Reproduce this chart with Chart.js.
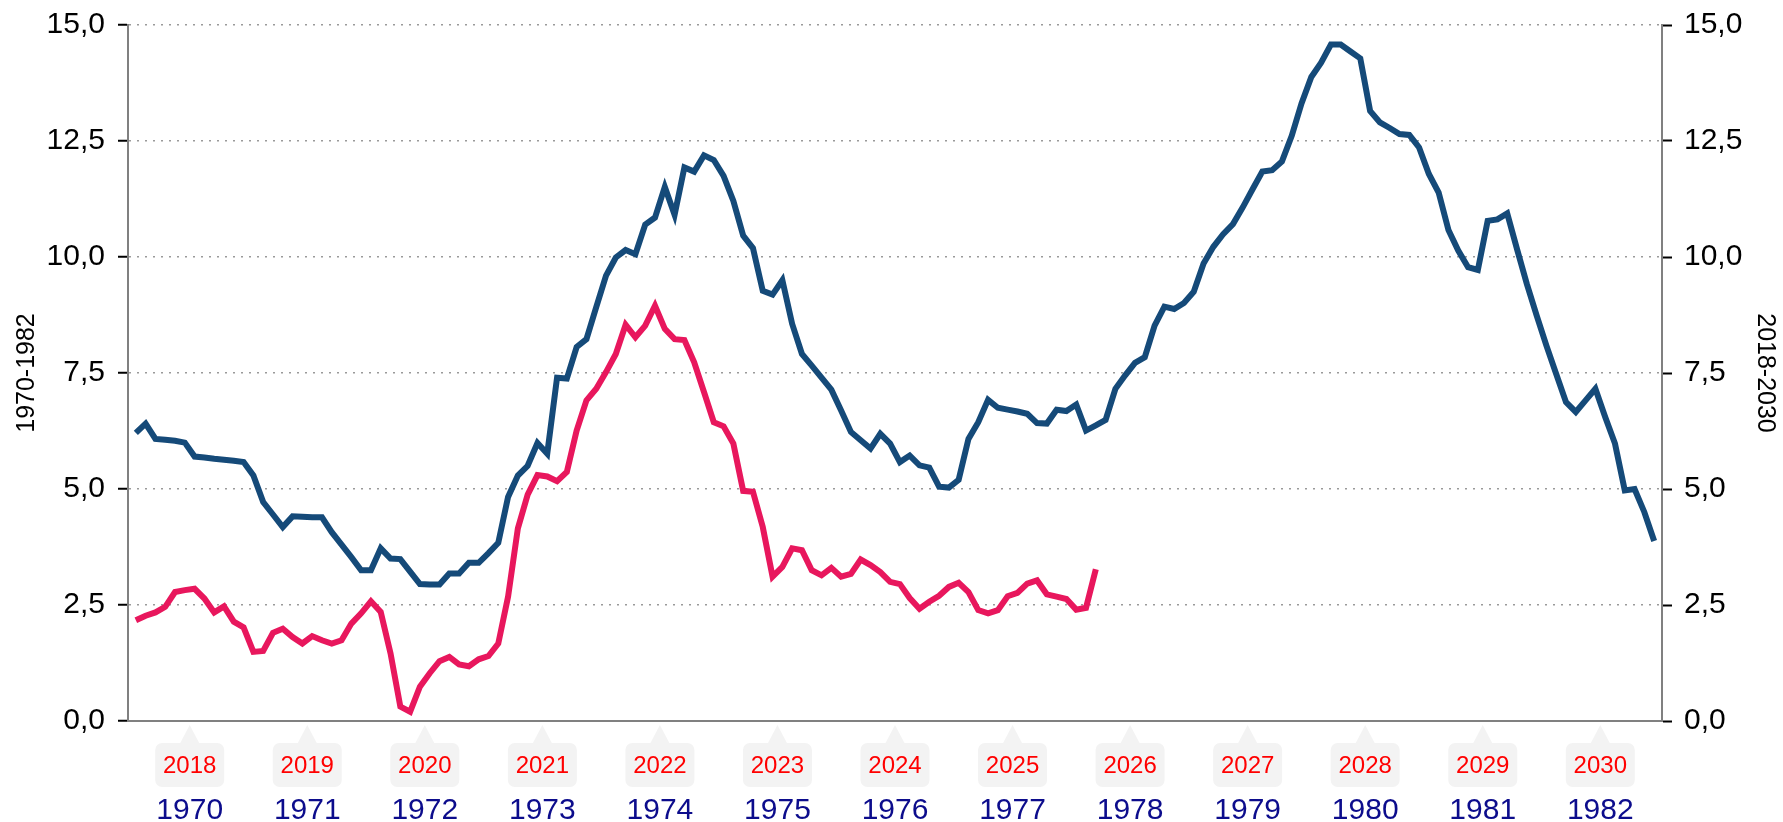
<!DOCTYPE html>
<html>
<head>
<meta charset="utf-8">
<script src="https://cdn.jsdelivr.net/npm/chart.js@4.4.1/dist/chart.umd.min.js"></script>
<style>
  html, body { margin: 0; padding: 0; background: #fff; }
</style>
</head>
<body>
<canvas id="myChart" width="1783" height="822"></canvas>
<script>
// monthly values, Jan 1970 .. Dec 1982
const values1970 = [
  6.21, 6.41, 6.08, 6.06, 6.04, 6.00, 5.70, 5.68, 5.65, 5.63, 5.61, 5.58,
  5.29, 4.72, 4.45, 4.18, 4.41, 4.40, 4.39, 4.39, 4.07, 3.80, 3.53, 3.25,
  3.25, 3.72, 3.50, 3.49, 3.22, 2.95, 2.94, 2.94, 3.18, 3.18, 3.41, 3.41,
  3.62, 3.84, 4.83, 5.29, 5.50, 5.99, 5.76, 7.40, 7.38, 8.06, 8.23, 8.92,
  9.60, 9.99, 10.15, 10.06, 10.70, 10.85, 11.51, 10.91, 11.93, 11.84, 12.19, 12.09,
  11.75, 11.21, 10.46, 10.19, 9.27, 9.19, 9.50, 8.56, 7.91, 7.66, 7.40, 7.14,
  6.69, 6.23, 6.05, 5.87, 6.19, 5.98, 5.58, 5.72, 5.51, 5.46, 5.05, 5.03,
  5.20, 6.08, 6.44, 6.92, 6.75, 6.71, 6.67, 6.62, 6.42, 6.41, 6.71, 6.68,
  6.82, 6.26, 6.37, 6.49, 7.16, 7.45, 7.72, 7.84, 8.52, 8.93, 8.88, 9.01,
  9.25, 9.86, 10.22, 10.49, 10.71, 11.07, 11.46, 11.84, 11.87, 12.06, 12.61, 13.31,
  13.88, 14.19, 14.58, 14.58, 14.43, 14.28, 13.15, 12.90, 12.78, 12.65, 12.63, 12.36,
  11.79, 11.39, 10.58, 10.14, 9.78, 9.72, 10.78, 10.81, 10.94, 10.17, 9.42, 8.74,
  8.09, 7.48, 6.87, 6.66, 6.91, 7.16, 6.55, 5.98, 4.97, 5.00, 4.50, 3.88
];

// monthly values, Jan 2018 .. Mar 2026
const values2018 = [
  2.17, 2.27, 2.34, 2.46, 2.78, 2.82, 2.85, 2.64, 2.34, 2.47, 2.14, 2.02,
  1.49, 1.51, 1.90, 1.99, 1.81, 1.67, 1.83, 1.74, 1.67, 1.74, 2.10, 2.32,
  2.58, 2.35, 1.46, 0.31, 0.20, 0.74, 1.03, 1.29, 1.38, 1.22, 1.18, 1.33,
  1.40, 1.67, 2.68, 4.15, 4.88, 5.30, 5.27, 5.17, 5.37, 6.26, 6.91, 7.16,
  7.52, 7.91, 8.54, 8.27, 8.52, 8.95, 8.45, 8.23, 8.21, 7.73, 7.09, 6.44,
  6.35, 5.98, 4.96, 4.94, 4.18, 3.11, 3.32, 3.72, 3.68, 3.25, 3.14, 3.30,
  3.11, 3.17, 3.48, 3.36, 3.21, 3.00, 2.95, 2.65, 2.42, 2.57, 2.70, 2.89,
  2.98, 2.78, 2.39, 2.32, 2.39, 2.69, 2.76, 2.96, 3.03, 2.73, 2.68, 2.63,
  2.40, 2.44, 3.27
];

const yearsOld = [1970, 1971, 1972, 1973, 1974, 1975, 1976, 1977, 1978, 1979, 1980, 1981, 1982];
const yearsNew = [2018, 2019, 2020, 2021, 2022, 2023, 2024, 2025, 2026, 2027, 2028, 2029, 2030];

Chart.defaults.font.family = "'Liberation Sans', Arial, sans-serif";

// label sits in the middle of each year (month index 5.5)
const yearTickValue = k => 5.5 + 12 * k;

// red year labels in little grey callout boxes
const yearBoxes = {
  id: 'yearBoxes',
  afterDraw(chart) {
    const ctx = chart.ctx;
    const xs = chart.scales.x;
    const top = xs.top;
    ctx.save();
    yearsNew.forEach((yr, k) => {
      const cx = xs.getPixelForValue(yearTickValue(k));
      const w = 69, h = 44, by = top + 22;
      ctx.fillStyle = '#f3f3f3';
      ctx.beginPath();
      ctx.moveTo(cx, top + 4);
      ctx.lineTo(cx + 10, by + 1);
      ctx.lineTo(cx - 10, by + 1);
      ctx.closePath();
      ctx.fill();
      ctx.beginPath();
      ctx.roundRect(cx - w / 2, by, w, h, 7);
      ctx.fill();
      ctx.fillStyle = '#ff0000';
      ctx.font = "24px 'Liberation Sans', Arial, sans-serif";
      ctx.textAlign = 'center';
      ctx.textBaseline = 'middle';
      ctx.fillText(String(yr), cx, by + h / 2 + 1);
    });
    ctx.restore();
  }
};

const fmt = v => v.toFixed(1).replace('.', ',');

// fix the axis widths so the plot area lands where the original has it
const fitY = width => s => {
  s.width = width;
  s.paddingTop = 0;
  s.paddingBottom = 0;
};

new Chart('myChart', {
  type: 'line',
  data: {
    datasets: [
      {
        label: '2018-2030',
        data: values2018.map((v, i) => ({ x: i, y: v })),
        borderColor: '#e8175d',
        borderWidth: 6,
        pointRadius: 0,
        tension: 0
      },
      {
        label: '1970-1982',
        data: values1970.map((v, i) => ({ x: i, y: v })),
        borderColor: '#154a79',
        borderWidth: 6,
        pointRadius: 0,
        tension: 0
      }
    ]
  },
  options: {
    responsive: false,
    animation: false,
    layout: { padding: { top: 25, left: 0, right: 0, bottom: 0 } },
    plugins: {
      legend: { display: false },
      tooltip: { enabled: false }
    },
    scales: {
      x: {
        type: 'linear',
        min: -0.8,
        max: 155.8,
        afterBuildTicks: s => { s.ticks = yearsOld.map((y, k) => ({ value: yearTickValue(k) })); },
        afterFit: s => { s.height = 101; },
        grid: { display: false, drawTicks: false },
        border: { display: true, color: '#808080', width: 2 },
        ticks: {
          autoSkip: false,
          maxRotation: 0,
          minRotation: 0,
          padding: 72,
          color: '#0c0c8c',
          font: { size: 30 },
          callback: (value, index) => String(yearsOld[index])
        }
      },
      y: {
        position: 'left',
        min: 0,
        max: 15,
        afterFit: fitY(128),
        grid: {
          color: '#9a9a9a',
          lineWidth: 1.5,
          tickLength: 10,
          tickColor: '#000',
          tickWidth: 2,
          tickBorderDash: []
        },
        border: { display: true, color: '#808080', width: 2, dash: [2, 6] },
        ticks: {
          stepSize: 2.5,
          padding: 13,
          color: '#000',
          font: { size: 30 },
          callback: v => fmt(v)
        },
        title: {
          display: true,
          text: '1970-1982',
          color: '#000',
          font: { size: 25 },
          padding: { top: 12, bottom: 0 }
        }
      },
      y2: {
        position: 'right',
        min: 0,
        max: 15,
        afterFit: fitY(121),
        grid: {
          drawOnChartArea: false,
          tickLength: 10,
          tickColor: '#000',
          tickWidth: 2,
          tickBorderDash: []
        },
        border: { display: true, color: '#808080', width: 2 },
        ticks: {
          stepSize: 2.5,
          padding: 12,
          color: '#000',
          font: { size: 30 },
          callback: v => fmt(v)
        },
        title: {
          display: true,
          text: '2018-2030',
          color: '#000',
          font: { size: 25 },
          padding: { top: 3, bottom: 0 }
        }
      }
    }
  },
  plugins: [yearBoxes]
});
</script>
</body>
</html>
